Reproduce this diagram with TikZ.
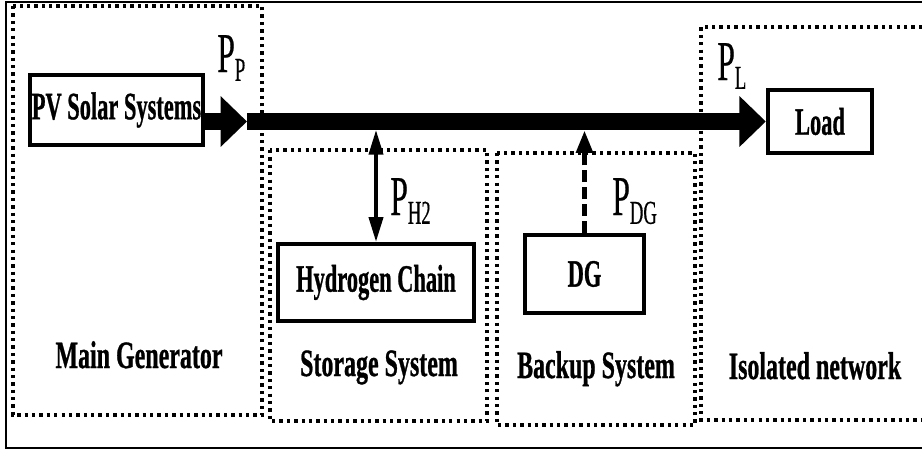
\documentclass[tikz,border=0pt]{standalone}
\usepackage{fontspec}
\setmainfont{Liberation Serif}[BoldFeatures={FakeBold=1}]
\newfontfamily\heavy{Liberation Serif}[FakeBold=0.6]
\usepackage{graphicx}
\usetikzlibrary{arrows.meta}

% narrow (condensed) text, as in the reference
\newcommand{\cnd}[2][0.62]{\scalebox{#1}[1]{#2}}
% power label P with an upright subscript
\newcommand{\pw}[1]{\scalebox{0.56}[1]{P\raisebox{-5pt}{\fontsize{19pt}{19pt}\selectfont #1}}}

\begin{document}
\begin{tikzpicture}[x=0.02cm,y=-0.02cm,
  unit/.style={draw,line width=2.5pt,inner sep=0pt,font=\fontsize{22pt}{22pt}\selectfont\bfseries},
  zone/.style={line width=2pt,dash pattern=on 1.9pt off 2.3pt},
  zonelabel/.style={anchor=base,font=\fontsize{22pt}{22pt}\selectfont\bfseries},
  plabel/.style={anchor=base west,inner sep=0pt,font=\fontsize{32pt}{32pt}\selectfont\heavy},
  bus/.style={line width=9.6pt,-{Triangle[length=15pt,width=28pt]}}]
\useasboundingbox (0,0) rectangle (922,451);

% outer frame (open on the right)
\draw[line width=1.2pt] (922,2) -- (6,2) -- (6,448) -- (922,448);

% dotted zones
\draw[zone] (13,6) rectangle (262,415);
\draw[zone] (270,150) rectangle (487,421);
\draw[zone] (497,153) rectangle (695,425);
\draw[zone] (922,27) -- (701,27) -- (701,420) -- (922,420);

% units
\node[unit,minimum width=3.46cm,minimum height=1.40cm] (PV) at (116.5,110) {\cnd[0.58]{PV Solar Systems}};
\node[unit,minimum width=2.08cm,minimum height=1.26cm] (Load) at (820,121.5) {\cnd[0.58]{Load}};
\node[unit,minimum width=3.92cm,minimum height=1.54cm] (H2) at (376,282.5) {\cnd[0.58]{Hydrogen Chain}};
\node[unit,minimum width=2.38cm,minimum height=1.56cm] (DG) at (584.5,274) {\cnd[0.58]{DG}};

% main power bus
\coordinate (pvout) at (PV.east |- Load.west);
\coordinate (pp) at (247,121.5);
\draw[bus] (pvout) -- (pp);
\draw[bus] (pp) -- (Load.west);

% storage and backup links
\coordinate (h2bus) at (H2.north |- 0,130);
\coordinate (dgbus) at (DG.north |- 0,130);
\draw[line width=2pt,{Triangle[length=14pt,width=8pt]}-{Triangle[length=14pt,width=8pt]}] (h2bus) -- (H2.north);
\draw[line width=3.4pt,dash pattern=on 6.8pt off 2.8pt,-{Triangle[length=13pt,width=9pt]}] (DG.north) -- (dgbus);

% power labels
\node[plabel] (pP) at (217,72) {\pw{P}};
\node[plabel] (pL) at (717,80) {\pw{L}};
\node[plabel] (pH) at (390,215) {\pw{H2}};
\node[plabel] (pD) at (612,215) {\pw{DG}};

% zone labels
\node[zonelabel] (main) at (139,368) {\cnd{Main Generator}};
\node[zonelabel] (stor) at (379,376) {\cnd{Storage System}};
\node[zonelabel] (back) at (596,378) {\cnd{Backup System}};
\node[zonelabel] (iso) at (815,379) {\cnd{Isolated network}};
\end{tikzpicture}
\end{document}
